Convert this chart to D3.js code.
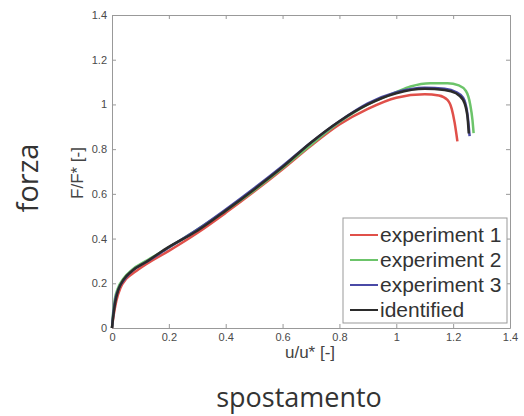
<!DOCTYPE html>
<html>
<head>
<meta charset="utf-8">
<script src="https://d3js.org/d3.v7.min.js"></script>
<style>
body { margin: 0; background: #fff; }
svg { display: block; }
.tick text { font-family: Arial, "Liberation Sans", sans-serif; font-size: 11px; fill: #4a4a4a; }
.tick line, .domain { stroke: #999; }
</style>
</head>
<body>
<svg id="chart" width="524" height="416"></svg>
<script>
// values
var xTicks = [0, 0.2, 0.4, 0.6, 0.8, 1, 1.2, 1.4];
var yTicks = [0, 0.2, 0.4, 0.6, 0.8, 1, 1.2, 1.4];

var seriesNames = ['experiment 1', 'experiment 2', 'experiment 3', 'identified'];
var seriesColors = ['#e0504a', '#6cc46a', '#4a4aa6', '#2b2b2b'];

var exp1 = [[0,0],[0.005,0.05],[0.015,0.12],[0.03,0.18],[0.05,0.22],[0.08,0.25],[0.12,0.285],[0.2,0.345],[0.3,0.425],[0.4,0.515],[0.5,0.61],[0.6,0.71],[0.7,0.815],[0.8,0.91],[0.9,0.98],[1.0,1.03],[1.1,1.045],[1.15,1.04],[1.18,1.02],[1.195,0.98],[1.205,0.92],[1.215,0.835]];
var exp2 = [[0,0],[0.004,0.07],[0.01,0.13],[0.02,0.175],[0.04,0.22],[0.07,0.26],[0.12,0.3],[0.2,0.36],[0.3,0.44],[0.4,0.525],[0.5,0.615],[0.6,0.715],[0.7,0.82],[0.8,0.92],[0.9,1.0],[1.0,1.055],[1.05,1.08],[1.12,1.095],[1.18,1.095],[1.22,1.085],[1.245,1.06],[1.26,1.0],[1.268,0.93],[1.272,0.872]];
var exp3 = [[0,0],[0.005,0.07],[0.012,0.13],[0.025,0.18],[0.045,0.22],[0.075,0.26],[0.12,0.295],[0.2,0.36],[0.3,0.44],[0.4,0.53],[0.5,0.625],[0.6,0.725],[0.7,0.83],[0.8,0.925],[0.9,1.005],[1.0,1.055],[1.1,1.075],[1.17,1.07],[1.21,1.055],[1.235,1.03],[1.25,0.96],[1.258,0.858]];
var identified = [[0,0],[0.005,0.06],[0.012,0.12],[0.022,0.17],[0.04,0.215],[0.07,0.255],[0.12,0.295],[0.19,0.355],[0.3,0.435],[0.4,0.525],[0.5,0.62],[0.6,0.72],[0.7,0.83],[0.8,0.925],[0.9,1.0],[1.0,1.05],[1.1,1.07],[1.17,1.065],[1.21,1.05],[1.235,1.02],[1.25,0.95],[1.255,0.87]];

var allSeries = [exp1, exp2, exp3, identified];

var margin = {top: 15, right: 14, bottom: 88, left: 112};
var svg = d3.select('#chart');
var width = 524 - margin.left - margin.right,
	height = 416 - margin.top - margin.bottom;

var x = d3.scaleLinear().domain([0, 1.4]).range([0, width]);
var y = d3.scaleLinear().domain([0, 1.4]).range([height, 0]);

var g = svg.append('g').attr('transform', 'translate(' + margin.left + ',' + margin.top + ')');

var fmt = function (d) { return String(d); };

// matlab style box, ticks pointing in on all four sides
g.append('g').attr('transform', 'translate(0,' + height + ')')
	.call(d3.axisBottom(x).tickValues(xTicks).tickFormat(fmt).tickSizeInner(-4).tickSizeOuter(0).tickPadding(5));
g.append('g')
	.call(d3.axisLeft(y).tickValues(yTicks).tickFormat(fmt).tickSizeInner(-4).tickSizeOuter(0).tickPadding(5));
g.append('g')
	.call(d3.axisTop(x).tickValues(xTicks).tickFormat('').tickSizeInner(-4).tickSizeOuter(0));
g.append('g').attr('transform', 'translate(' + width + ',0)')
	.call(d3.axisRight(y).tickValues(yTicks).tickFormat('').tickSizeInner(-4).tickSizeOuter(0));

var line = d3.line()
	.x(function (d) { return x(d[0]); })
	.y(function (d) { return y(d[1]); })
	.curve(d3.curveMonotoneX);

g.selectAll('path.series')
	.data(allSeries)
	.enter()
	.append('path')
	.attr('class', 'series')
	.attr('d', line)
	.attr('fill', 'none')
	.attr('stroke', function (d, i) { return seriesColors[i]; })
	.attr('stroke-width', 2.5)
	.attr('stroke-linejoin', 'round');

// legend
var legend = g.append('g').attr('transform', 'translate(' + (343 - margin.left) + ',' + (218 - margin.top) + ')');
legend.append('rect')
	.attr('width', 164).attr('height', 105)
	.attr('fill', '#fff').attr('stroke', '#999').attr('stroke-width', 1);

var items = legend.selectAll('g.item')
	.data(seriesNames)
	.enter()
	.append('g')
	.attr('class', 'item')
	.attr('transform', function (d, i) { return 'translate(0,' + (17 + i * 25) + ')'; });

items.append('line')
	.attr('x1', 7).attr('x2', 35)
	.attr('stroke', function (d, i) { return seriesColors[i]; })
	.attr('stroke-width', 2);

items.append('text')
	.attr('x', 37)
	.attr('dy', '0.35em')
	.attr('font-family', 'Arial, "Liberation Sans", sans-serif')
	.attr('font-size', 21)
	.attr('fill', '#333')
	.text(function (d) { return d; });

// axis titles
svg.append('text')
	.attr('x', 310).attr('y', 358)
	.attr('text-anchor', 'middle')
	.attr('font-family', 'Arial, "Liberation Sans", sans-serif')
	.attr('font-size', 17).attr('fill', '#444')
	.text('u/u* [-]');

svg.append('text')
	.attr('transform', 'translate(83,173) rotate(-90)')
	.attr('text-anchor', 'middle')
	.attr('font-family', 'Arial, "Liberation Sans", sans-serif')
	.attr('font-size', 17).attr('fill', '#444')
	.text('F/F* [-]');

svg.append('text')
	.attr('transform', 'translate(38,178) rotate(-90)')
	.attr('text-anchor', 'middle')
	.attr('font-family', '"Open Sans", "Noto Sans", sans-serif')
	.attr('font-size', 29).attr('fill', '#333')
	.text('forza');

svg.append('text')
	.attr('x', 299).attr('y', 407)
	.attr('text-anchor', 'middle')
	.attr('font-family', '"Open Sans", "Noto Sans", sans-serif')
	.attr('font-size', 27).attr('fill', '#333')
	.text('spostamento');
</script>
</body>
</html>
